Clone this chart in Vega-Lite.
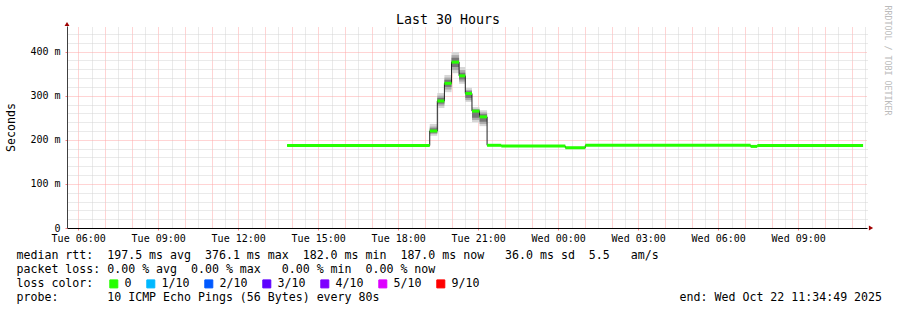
{
  "$schema": "https://vega.github.io/schema/vega-lite/v6.json",
  "width": 800,
  "height": 202,
  "autosize": {"type": "none"},
  "padding": {"left": 67, "top": 26, "right": 30, "bottom": 82},
  "background": "white",
  "config": {"view": {"stroke": null}, "font": "DejaVu Sans Mono"},
  "title": {"text": "Last 30 Hours", "fontSize": 13.3, "fontWeight": "normal", "color": "black", "dx": -19, "dy": 21, "offset": 0},
  "datasets": {
    "median": [
      {"start": "2025-10-21T13:50:00", "end": "2025-10-21T19:11:00", "median": 187, "loss": "0"},
      {"start": "2025-10-21T19:11:00", "end": "2025-10-21T19:28:00", "median": 220, "loss": "0"},
      {"start": "2025-10-21T19:28:00", "end": "2025-10-21T19:44:00", "median": 288, "loss": "0"},
      {"start": "2025-10-21T19:44:00", "end": "2025-10-21T20:00:00", "median": 328, "loss": "0"},
      {"start": "2025-10-21T20:00:00", "end": "2025-10-21T20:17:00", "median": 376.1, "loss": "0"},
      {"start": "2025-10-21T20:17:00", "end": "2025-10-21T20:31:00", "median": 345, "loss": "0"},
      {"start": "2025-10-21T20:31:00", "end": "2025-10-21T20:46:00", "median": 305, "loss": "0"},
      {"start": "2025-10-21T20:46:00", "end": "2025-10-21T21:03:00", "median": 265, "loss": "0"},
      {"start": "2025-10-21T21:03:00", "end": "2025-10-21T21:20:00", "median": 252, "loss": "0"},
      {"start": "2025-10-21T21:20:00", "end": "2025-10-21T21:52:00", "median": 187.5, "loss": "0"},
      {"start": "2025-10-21T21:52:00", "end": "2025-10-22T00:16:00", "median": 186, "loss": "0"},
      {"start": "2025-10-22T00:16:00", "end": "2025-10-22T01:01:00", "median": 182, "loss": "0"},
      {"start": "2025-10-22T01:01:00", "end": "2025-10-22T07:13:00", "median": 187.5, "loss": "0"},
      {"start": "2025-10-22T07:13:00", "end": "2025-10-22T07:28:00", "median": 185, "loss": "0"},
      {"start": "2025-10-22T07:28:00", "end": "2025-10-22T11:26:00", "median": 187, "loss": "0"}
    ],
    "smoke": [
      {"start": "2025-10-21T19:11:00", "end": "2025-10-21T19:28:00", "lo": 209, "hi": 236, "band": "outer"},
      {"start": "2025-10-21T19:28:00", "end": "2025-10-21T19:44:00", "lo": 272, "hi": 306, "band": "outer"},
      {"start": "2025-10-21T19:44:00", "end": "2025-10-21T20:00:00", "lo": 308, "hi": 347, "band": "outer"},
      {"start": "2025-10-21T20:00:00", "end": "2025-10-21T20:17:00", "lo": 351, "hi": 399, "band": "outer"},
      {"start": "2025-10-21T20:17:00", "end": "2025-10-21T20:31:00", "lo": 327, "hi": 365, "band": "outer"},
      {"start": "2025-10-21T20:31:00", "end": "2025-10-21T20:46:00", "lo": 286, "hi": 318, "band": "outer"},
      {"start": "2025-10-21T20:46:00", "end": "2025-10-21T21:03:00", "lo": 240, "hi": 274, "band": "outer"},
      {"start": "2025-10-21T21:03:00", "end": "2025-10-21T21:20:00", "lo": 231, "hi": 267, "band": "outer"},
      {"start": "2025-10-21T19:11:00", "end": "2025-10-21T19:28:00", "lo": 213, "hi": 230, "band": "mid"},
      {"start": "2025-10-21T19:28:00", "end": "2025-10-21T19:44:00", "lo": 277, "hi": 300, "band": "mid"},
      {"start": "2025-10-21T19:44:00", "end": "2025-10-21T20:00:00", "lo": 314, "hi": 341, "band": "mid"},
      {"start": "2025-10-21T20:00:00", "end": "2025-10-21T20:17:00", "lo": 358, "hi": 392, "band": "mid"},
      {"start": "2025-10-21T20:17:00", "end": "2025-10-21T20:31:00", "lo": 332, "hi": 358, "band": "mid"},
      {"start": "2025-10-21T20:31:00", "end": "2025-10-21T20:46:00", "lo": 290, "hi": 313, "band": "mid"},
      {"start": "2025-10-21T20:46:00", "end": "2025-10-21T21:03:00", "lo": 245, "hi": 270, "band": "mid"},
      {"start": "2025-10-21T21:03:00", "end": "2025-10-21T21:20:00", "lo": 236, "hi": 262, "band": "mid"},
      {"start": "2025-10-21T19:11:00", "end": "2025-10-21T19:28:00", "lo": 216, "hi": 226, "band": "inner"},
      {"start": "2025-10-21T19:28:00", "end": "2025-10-21T19:44:00", "lo": 282, "hi": 295, "band": "inner"},
      {"start": "2025-10-21T19:44:00", "end": "2025-10-21T20:00:00", "lo": 320, "hi": 336, "band": "inner"},
      {"start": "2025-10-21T20:00:00", "end": "2025-10-21T20:17:00", "lo": 365, "hi": 386, "band": "inner"},
      {"start": "2025-10-21T20:17:00", "end": "2025-10-21T20:31:00", "lo": 337, "hi": 352, "band": "inner"},
      {"start": "2025-10-21T20:31:00", "end": "2025-10-21T20:46:00", "lo": 295, "hi": 310, "band": "inner"},
      {"start": "2025-10-21T20:46:00", "end": "2025-10-21T21:03:00", "lo": 250, "hi": 268, "band": "inner"},
      {"start": "2025-10-21T21:03:00", "end": "2025-10-21T21:20:00", "lo": 241, "hi": 258, "band": "inner"}
    ]
  },
  "layer": [
    {
      "data": {"name": "smoke"},
      "mark": {"type": "rect"},
      "encoding": {
        "x": {
          "field": "start", "type": "temporal",
          "scale": {"domain": [{"year": 2025, "month": 10, "date": 21, "hours": 5, "minutes": 34, "seconds": 49}, {"year": 2025, "month": 10, "date": 22, "hours": 11, "minutes": 34, "seconds": 49}], "nice": false},
          "axis": {
            "orient": "bottom",
            "title": [
              "median\u00a0rtt:\u00a0\u00a0197.5\u00a0ms\u00a0avg\u00a0\u00a0376.1\u00a0ms\u00a0max\u00a0\u00a0182.0\u00a0ms\u00a0min\u00a0\u00a0187.0\u00a0ms\u00a0now\u00a0\u00a0\u00a036.0\u00a0ms\u00a0sd\u00a0\u00a05.5\u00a0\u00a0\u00a0am/s",
              "packet\u00a0loss:\u00a00.00\u00a0%\u00a0avg\u00a0\u00a00.00\u00a0%\u00a0max\u00a0\u00a0\u00a00.00\u00a0%\u00a0min\u00a0\u00a00.00\u00a0%\u00a0now",
              "loss\u00a0color:",
              "probe:\u00a0\u00a0\u00a0\u00a0\u00a0\u00a0\u00a010\u00a0ICMP\u00a0Echo\u00a0Pings\u00a0(56\u00a0Bytes)\u00a0every\u00a080s\u00a0\u00a0\u00a0\u00a0\u00a0\u00a0\u00a0\u00a0\u00a0\u00a0\u00a0\u00a0\u00a0\u00a0\u00a0\u00a0\u00a0\u00a0\u00a0\u00a0\u00a0\u00a0\u00a0\u00a0\u00a0\u00a0\u00a0\u00a0\u00a0\u00a0\u00a0\u00a0\u00a0\u00a0\u00a0\u00a0\u00a0\u00a0\u00a0\u00a0\u00a0\u00a0\u00a0end:\u00a0Wed\u00a0Oct\u00a022\u00a011:34:49\u00a02025"
            ],
            "titleFontSize": 11.6, "titleFontWeight": "normal", "titleColor": "black",
            "titleAnchor": "start", "titleAlign": "left", "titleBaseline": "alphabetic", "titleX": -51, "titleY": 30.5, "titleLineHeight": 14,
            "values": [
              {"year": 2025, "month": 10, "date": 21, "hours": 6}, {"year": 2025, "month": 10, "date": 21, "hours": 9},
              {"year": 2025, "month": 10, "date": 21, "hours": 12}, {"year": 2025, "month": 10, "date": 21, "hours": 15},
              {"year": 2025, "month": 10, "date": 21, "hours": 18}, {"year": 2025, "month": 10, "date": 21, "hours": 21},
              {"year": 2025, "month": 10, "date": 22, "hours": 0}, {"year": 2025, "month": 10, "date": 22, "hours": 3},
              {"year": 2025, "month": 10, "date": 22, "hours": 6}, {"year": 2025, "month": 10, "date": 22, "hours": 9}
            ],
            "tickCount": 100,
            "format": "%a %H:%M",
            "labelFontSize": 10, "labelColor": "black", "labelOverlap": false, "labelFlush": false, "labelPadding": 3,
            "grid": false,
            "tickSize": 2, "tickColor": "#ff8080", "domainColor": "black"
          }
        },
        "x2": {"field": "end"},
        "y": {
          "field": "lo", "type": "quantitative",
          "scale": {"domain": [0, 458], "nice": false},
          "axis": {
            "orient": "left",
            "title": "Seconds", "titleFontSize": 11.6, "titleFontWeight": "normal", "titleColor": "black",
            "titleX": -56, "titleY": 101, "titleAngle": 270, "titleAlign": "center", "titleBaseline": "middle",
            "values": [0, 100, 200, 300, 400],
            "tickCount": 100,
            "labelExpr": "datum.value == 0 ? '0' : datum.value + ' m'",
            "labelFontSize": 10, "labelColor": "black", "labelPadding": 5, "labelOverlap": false,
            "grid": true, "gridColor": "#ffa8a8", "gridDash": [1, 1],
            "tickSize": 2, "tickColor": "#ff8080", "domainColor": "#404040"
          }
        },
        "y2": {"field": "hi"},
        "fill": {"field": "band", "type": "nominal", "scale": {"domain": ["outer", "mid", "inner"], "range": ["#d6d6d6", "#ababab", "#777777"]}, "legend": null}
      }
    },
    {
      "data": {"name": "median"},
      "mark": {"type": "line", "interpolate": "step-after", "color": "#202020", "strokeWidth": 1},
      "encoding": {
        "x": {
          "field": "start", "type": "temporal",
          "axis": {
            "orient": "top", "title": null, "labels": false, "ticks": false, "domain": false,
            "grid": true, "gridColor": "#ffa8a8", "gridDash": [1, 1], "tickCount": 100,
            "values": [
              {"year": 2025, "month": 10, "date": 21, "hours": 6}, {"year": 2025, "month": 10, "date": 21, "hours": 7},
              {"year": 2025, "month": 10, "date": 21, "hours": 8}, {"year": 2025, "month": 10, "date": 21, "hours": 9},
              {"year": 2025, "month": 10, "date": 21, "hours": 10}, {"year": 2025, "month": 10, "date": 21, "hours": 11},
              {"year": 2025, "month": 10, "date": 21, "hours": 12}, {"year": 2025, "month": 10, "date": 21, "hours": 13},
              {"year": 2025, "month": 10, "date": 21, "hours": 14}, {"year": 2025, "month": 10, "date": 21, "hours": 15},
              {"year": 2025, "month": 10, "date": 21, "hours": 16}, {"year": 2025, "month": 10, "date": 21, "hours": 17},
              {"year": 2025, "month": 10, "date": 21, "hours": 18}, {"year": 2025, "month": 10, "date": 21, "hours": 19},
              {"year": 2025, "month": 10, "date": 21, "hours": 20}, {"year": 2025, "month": 10, "date": 21, "hours": 21},
              {"year": 2025, "month": 10, "date": 21, "hours": 22}, {"year": 2025, "month": 10, "date": 21, "hours": 23},
              {"year": 2025, "month": 10, "date": 22, "hours": 0}, {"year": 2025, "month": 10, "date": 22, "hours": 1},
              {"year": 2025, "month": 10, "date": 22, "hours": 2}, {"year": 2025, "month": 10, "date": 22, "hours": 3},
              {"year": 2025, "month": 10, "date": 22, "hours": 4}, {"year": 2025, "month": 10, "date": 22, "hours": 5},
              {"year": 2025, "month": 10, "date": 22, "hours": 6}, {"year": 2025, "month": 10, "date": 22, "hours": 7},
              {"year": 2025, "month": 10, "date": 22, "hours": 8}, {"year": 2025, "month": 10, "date": 22, "hours": 9},
              {"year": 2025, "month": 10, "date": 22, "hours": 10}, {"year": 2025, "month": 10, "date": 22, "hours": 11}
            ]
          }
        },
        "y": {
          "field": "median", "type": "quantitative",
          "axis": {
            "orient": "right", "labels": false, "ticks": false, "domain": false,
            "grid": true, "gridColor": "#d4d4d4", "gridDash": [1, 1], "tickCount": 100,
            "values": [20, 40, 60, 80, 120, 140, 160, 180, 220, 240, 260, 280, 320, 340, 360, 380, 420, 440],
            "title": "RRDTOOL / TOBI OETIKER", "titleFontSize": 8.3, "titleFontWeight": "normal", "titleColor": "#bbbbbb",
            "titleAngle": 90, "titleX": 19, "titleY": 34, "titleAlign": "center", "titleBaseline": "middle"
          }
        }
      }
    },
    {
      "data": {"name": "median"},
      "mark": {"type": "rule", "strokeWidth": 3},
      "encoding": {
        "x": {
          "field": "start", "type": "temporal",
          "axis": {
            "orient": "top", "title": null, "labels": false, "ticks": false, "domain": false,
            "grid": true, "gridColor": "#d4d4d4", "gridDash": [1, 1], "tickCount": 100,
            "values": [
              {"year": 2025, "month": 10, "date": 21, "hours": 6, "minutes": 30}, {"year": 2025, "month": 10, "date": 21, "hours": 7, "minutes": 30},
              {"year": 2025, "month": 10, "date": 21, "hours": 8, "minutes": 30}, {"year": 2025, "month": 10, "date": 21, "hours": 9, "minutes": 30},
              {"year": 2025, "month": 10, "date": 21, "hours": 10, "minutes": 30}, {"year": 2025, "month": 10, "date": 21, "hours": 11, "minutes": 30},
              {"year": 2025, "month": 10, "date": 21, "hours": 12, "minutes": 30}, {"year": 2025, "month": 10, "date": 21, "hours": 13, "minutes": 30},
              {"year": 2025, "month": 10, "date": 21, "hours": 14, "minutes": 30}, {"year": 2025, "month": 10, "date": 21, "hours": 15, "minutes": 30},
              {"year": 2025, "month": 10, "date": 21, "hours": 16, "minutes": 30}, {"year": 2025, "month": 10, "date": 21, "hours": 17, "minutes": 30},
              {"year": 2025, "month": 10, "date": 21, "hours": 18, "minutes": 30}, {"year": 2025, "month": 10, "date": 21, "hours": 19, "minutes": 30},
              {"year": 2025, "month": 10, "date": 21, "hours": 20, "minutes": 30}, {"year": 2025, "month": 10, "date": 21, "hours": 21, "minutes": 30},
              {"year": 2025, "month": 10, "date": 21, "hours": 22, "minutes": 30}, {"year": 2025, "month": 10, "date": 21, "hours": 23, "minutes": 30},
              {"year": 2025, "month": 10, "date": 22, "hours": 0, "minutes": 30}, {"year": 2025, "month": 10, "date": 22, "hours": 1, "minutes": 30},
              {"year": 2025, "month": 10, "date": 22, "hours": 2, "minutes": 30}, {"year": 2025, "month": 10, "date": 22, "hours": 3, "minutes": 30},
              {"year": 2025, "month": 10, "date": 22, "hours": 4, "minutes": 30}, {"year": 2025, "month": 10, "date": 22, "hours": 5, "minutes": 30},
              {"year": 2025, "month": 10, "date": 22, "hours": 6, "minutes": 30}, {"year": 2025, "month": 10, "date": 22, "hours": 7, "minutes": 30},
              {"year": 2025, "month": 10, "date": 22, "hours": 8, "minutes": 30}, {"year": 2025, "month": 10, "date": 22, "hours": 9, "minutes": 30},
              {"year": 2025, "month": 10, "date": 22, "hours": 10, "minutes": 30}, {"year": 2025, "month": 10, "date": 22, "hours": 11, "minutes": 30}
            ]
          }
        },
        "x2": {"field": "end"},
        "y": {"field": "median", "type": "quantitative", "axis": null},
        "color": {
          "field": "loss", "type": "nominal",
          "scale": {"domain": ["0", "1/10", "2/10", "3/10", "4/10", "5/10", "9/10"], "range": ["#26ff00", "#00b8ff", "#0059ff", "#5e00ff", "#7e00ff", "#dd00ff", "#ff0000"]},
          "legend": {
            "orient": "none", "legendX": 41, "legendY": 252, "direction": "horizontal", "title": null,
            "symbolType": "square", "symbolSize": 64, "symbolStrokeWidth": 1,
            "labelFontSize": 11.6, "labelColor": "black", "labelOffset": 5,
            "columnPadding": 12, "padding": 0,
            "encode": {"symbols": {"update": {"fill": {"scale": "color", "field": "value"}, "stroke": {"value": "black"}, "fillOpacity": {"value": 1}}}}
          }
        }
      }
    },
    {
      "data": {"values": [{}]},
      "mark": {"type": "point", "shape": "triangle-up", "filled": true, "color": "#a00000", "opacity": 1, "size": 24, "yOffset": -2, "clip": false},
      "encoding": {
        "x": {"datum": {"year": 2025, "month": 10, "date": 21, "hours": 5, "minutes": 34, "seconds": 49}, "type": "temporal", "axis": null},
        "y": {"datum": 458, "type": "quantitative", "axis": null}
      }
    },
    {
      "data": {"values": [{}]},
      "mark": {"type": "point", "shape": "triangle-right", "filled": true, "color": "#a00000", "opacity": 1, "size": 24, "xOffset": 4, "clip": false},
      "encoding": {
        "x": {"datum": {"year": 2025, "month": 10, "date": 22, "hours": 11, "minutes": 34, "seconds": 49}, "type": "temporal", "axis": null},
        "y": {"datum": 0, "type": "quantitative", "axis": null}
      }
    }
  ],
  "resolve": {"axis": {"x": "independent", "y": "independent"}}
}
